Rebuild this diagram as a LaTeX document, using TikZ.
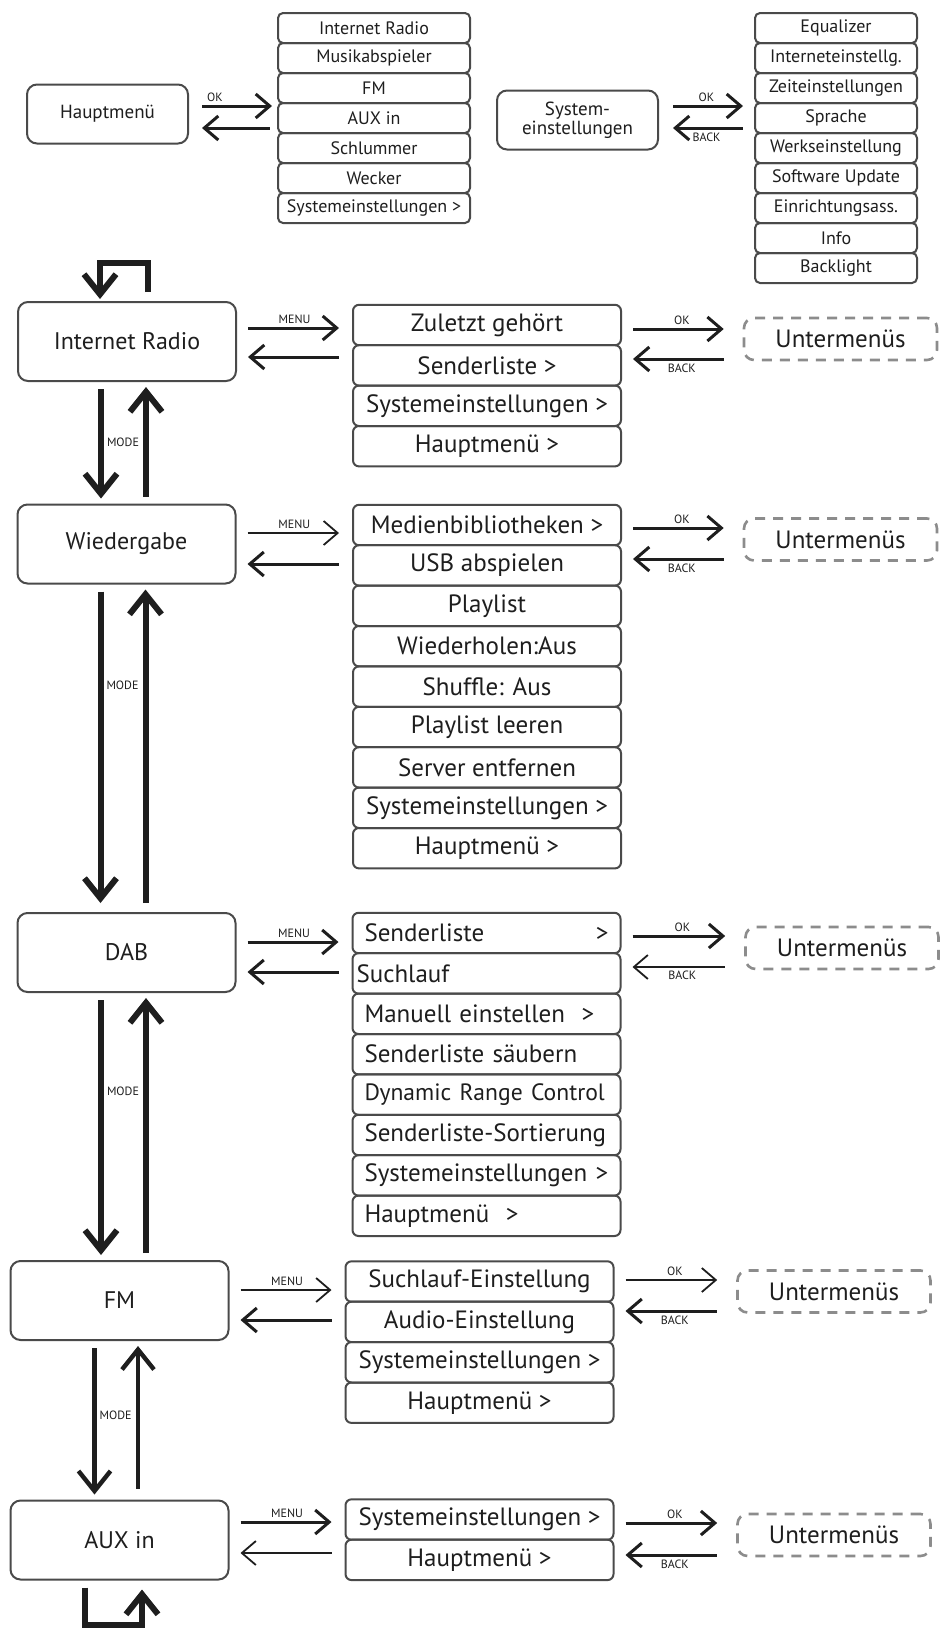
\documentclass[tikz,border=0pt]{standalone}
\usepackage{fontspec}
\setmainfont{PT Sans}
\usetikzlibrary{arrows.meta,positioning,calc}
\definecolor{Ink}{HTML}{1E1E1E}
\definecolor{Frame}{HTML}{4A4A4A}
\definecolor{Dash}{HTML}{8C8C8C}
\tikzset{modebox/.style={rectangle,rounded corners=5pt,draw=Frame,line width=1pt,minimum width=109pt,minimum height=39.5pt,outer sep=0pt,text=Ink,font=\fontsize{12}{14}\selectfont},headbox/.style={modebox,minimum width=80.5pt,minimum height=29.5pt,align=center,font=\fontsize{9.5}{7.5}\selectfont},item/.style={rectangle,rounded corners=3pt,draw=Frame,line width=1pt,minimum width=134pt,minimum height=20.2pt,inner sep=0pt,outer sep=0pt,text=Ink,font=\fontsize{12.5}{14}\selectfont},dabitem/.style={item,text width=122pt,align=left},smallitem/.style={item,rounded corners=2.5pt,minimum width=96pt,minimum height=15pt,font=\fontsize{9}{10}\selectfont},setitem/.style={smallitem,minimum width=81pt},submenu/.style={rectangle,rounded corners=5pt,draw=Dash,line width=1.3pt,dash pattern=on 5pt off 4pt,minimum width=96.5pt,minimum height=21pt,text=Ink,font=\fontsize{12.5}{14}\selectfont},fwd/.style={draw=Ink,line width=1.5pt,arrows={-Straight Barb[length=7pt,width=12pt]},shorten <=6pt,shorten >=7pt},back/.style={fwd,arrows={Straight Barb[length=7pt,width=12pt]-}},thin/.style={line width=0.9pt},modeline/.style={draw=Ink,line width=3pt,arrows={-Straight Barb[length=10pt,width=16pt]},shorten <=4pt,shorten >=3pt},keylabel/.style={text=Ink,inner sep=1.5pt,font=\fontsize{6}{7}\selectfont}}
\begin{document}
\begin{tikzpicture}[x=0.5pt,y=-0.5pt]
\useasboundingbox (0,0) rectangle (948,1629);
\fill[white] (0,0) rectangle (948,1629);
% top row: main menu and system settings
\node[headbox] (HM) at (107.5,114) {Hauptmenü};
\node[smallitem] (hm1) at (374,28) {Internet Radio};
\node[smallitem,below=0pt of hm1] (hm2) {Musikabspieler};
\node[smallitem,below=0pt of hm2] (hm3) {FM};
\node[smallitem,below=0pt of hm3] (hm4) {AUX in};
\node[smallitem,below=0pt of hm4] (hm5) {Schlummer};
\node[smallitem,below=0pt of hm5] (hm6) {Wecker};
\node[smallitem,below=0pt of hm6] (hm7) {Systemeinstellungen >};
\coordinate (hmok) at ($(HM.east)+(0,-8)$);
\coordinate (hmbk) at ($(HM.east)+(0,14)$);
\draw[fwd,shorten <=7pt,shorten >=3pt] (hmok) -- node[keylabel,above,pos=.3] {OK} (hmok -| hm1.west);
\draw[back,shorten <=7pt,shorten >=4pt] (hmbk) -- (hmbk -| hm1.west);
\node[headbox] (SE) at (577.5,120) {System-\\einstellungen};
\node[setitem] (se1) at (836,28) {Equalizer};
\node[setitem,below=0pt of se1] (se2) {Interneteinstellg.};
\node[setitem,below=0pt of se2] (se3) {Zeiteinstellungen};
\node[setitem,below=0pt of se3] (se4) {Sprache};
\node[setitem,below=0pt of se4] (se5) {Werkseinstellung};
\node[setitem,below=0pt of se5] (se6) {Software Update};
\node[setitem,below=0pt of se6] (se7) {Einrichtungsass.};
\node[setitem,below=0pt of se7] (se8) {Info};
\node[setitem,below=0pt of se8] (se9) {Backlight};
\coordinate (seok) at ($(SE.east)+(0,-14)$);
\coordinate (sebk) at ($(SE.east)+(0,8)$);
\draw[fwd,shorten <=7.5pt,shorten >=6pt] (seok) -- node[keylabel,above] {OK} (seok -| se1.west);
\draw[back,shorten <=7.5pt,shorten >=6pt] (sebk) -- node[keylabel,below] {BACK} (sebk -| se1.west);
% Internet Radio
\node[modebox] (IR) at (127,341.5) {Internet Radio};
\node[item] (ir1) at (487,325) {Zuletzt gehört};
\node[item,below=0pt of ir1] (ir2) {Senderliste >};
\node[item,below=0pt of ir2] (ir3) {Systemeinstellungen >};
\node[item,below=0pt of ir3] (ir4) {Hauptmenü >};
\node[submenu] (U1) at (840.5,339) {Untermenüs};
\coordinate (irmn) at ($(IR.east)+(0,-13.5)$);
\coordinate (irbk) at ($(IR.east)+(0,15.5)$);
\coordinate (irok) at ($(U1.west)+(0,-10)$);
\coordinate (irub) at ($(U1.west)+(0,20)$);
\draw[fwd] (irmn) -- node[keylabel,above] {MENU} (irmn -| ir1.west);
\draw[back] (irbk) -- (irbk -| ir1.west);
\draw[fwd,shorten >=9.5pt] (irok -| ir1.east) -- node[keylabel,above] {OK} (irok);
\draw[back,shorten >=9.5pt] (irub -| ir1.east) -- node[keylabel,below] {BACK} (irub);
% Wiedergabe
\node[modebox] (WG) at (126.5,544) {Wiedergabe};
\node[item] (wg1) at (487,525) {Medienbibliotheken >};
\node[item,below=0pt of wg1] (wg2) {USB abspielen};
\node[item,below=0pt of wg2] (wg3) {Playlist};
\node[item,below=0pt of wg3] (wg4) {Wiederholen:Aus};
\node[item,below=0pt of wg4] (wg5) {Shuffle: Aus};
\node[item,below=0pt of wg5] (wg6) {Playlist leeren};
\node[item,below=0pt of wg6] (wg7) {Server entfernen};
\node[item,below=0pt of wg7] (wg8) {Systemeinstellungen >};
\node[item,below=0pt of wg8] (wg9) {Hauptmenü >};
\node[submenu] (U2) at (840.5,539.5) {Untermenüs};
\coordinate (wgmn) at ($(WG.east)+(0,-11)$);
\coordinate (wgbk) at ($(WG.east)+(0,20)$);
\coordinate (wgok) at ($(U2.west)+(0,-11.5)$);
\coordinate (wgub) at ($(U2.west)+(0,19.5)$);
\draw[fwd,thin] (wgmn) -- node[keylabel,above] {MENU} (wgmn -| wg1.west);
\draw[back] (wgbk) -- (wgbk -| wg1.west);
\draw[fwd,shorten >=9.5pt] (wgok -| wg1.east) -- node[keylabel,above] {OK} (wgok);
\draw[back,shorten >=9.5pt] (wgub -| wg1.east) -- node[keylabel,below] {BACK} (wgub);
% DAB
\node[modebox] (DAB) at (126.5,952.5) {DAB};
\node[dabitem] (dab1) at (486.5,933) {Senderliste\hfill>};
\node[dabitem,below=0pt of dab1] (dab2) {\hspace*{-4pt}Suchlauf};
\node[dabitem,below=0pt of dab2] (dab3) {Manuell einstellen\ \ >};
\node[dabitem,below=0pt of dab3] (dab4) {Senderliste säubern};
\node[dabitem,below=0pt of dab4] (dab5) {\mbox{\fontsize{11.8}{14}\selectfont Dynamic Range Control}};
\node[dabitem,below=0pt of dab5] (dab6) {Senderliste-Sortierung};
\node[dabitem,below=0pt of dab6] (dab7) {Systemeinstellungen >};
\node[dabitem,below=0pt of dab7] (dab8) {Hauptmenü\ \ >};
\node[submenu] (U3) at (842,948) {Untermenüs};
\coordinate (dabmn) at ($(DAB.east)+(0,-10.5)$);
\coordinate (dabbk) at ($(DAB.east)+(0,19.5)$);
\coordinate (dabok) at ($(U3.west)+(0,-12)$);
\coordinate (dabub) at ($(U3.west)+(0,19)$);
\draw[fwd] (dabmn) -- node[keylabel,above] {MENU} (dabmn -| dab1.west);
\draw[back] (dabbk) -- (dabbk -| dab1.west);
\draw[fwd,shorten >=9.5pt] (dabok -| dab1.east) -- node[keylabel,above] {OK} (dabok);
\draw[back,thin,shorten >=9.5pt] (dabub -| dab1.east) -- node[keylabel,below] {BACK} (dabub);
% FM
\node[modebox] (FM) at (119.5,1300.5) {FM};
\node[item] (fm1) at (479.5,1281.5) {Suchlauf-Einstellung};
\node[item,below=0pt of fm1] (fm2) {Audio-Einstellung};
\node[item,below=0pt of fm2] (fm3) {Systemeinstellungen >};
\node[item,below=0pt of fm3] (fm4) {Hauptmenü >};
\node[submenu] (U4) at (834,1291.5) {Untermenüs};
\coordinate (fmmn) at ($(FM.east)+(0,-10.5)$);
\coordinate (fmbk) at ($(FM.east)+(0,19.5)$);
\coordinate (fmok) at ($(U4.west)+(0,-11.5)$);
\coordinate (fmub) at ($(U4.west)+(0,19.5)$);
\draw[fwd,thin] (fmmn) -- node[keylabel,above] {MENU} (fmmn -| fm1.west);
\draw[back] (fmbk) -- (fmbk -| fm1.west);
\draw[fwd,thin,shorten >=9.5pt] (fmok -| fm1.east) -- node[keylabel,above] {OK} (fmok);
\draw[back,shorten >=9.5pt] (fmub -| fm1.east) -- node[keylabel,below] {BACK} (fmub);
% AUX in
\node[modebox] (AUX) at (119.5,1540) {AUX in};
\node[item] (aux1) at (479.5,1519.5) {Systemeinstellungen >};
\node[item,below=0pt of aux1] (aux2) {Hauptmenü >};
\node[submenu] (U5) at (834,1535) {Untermenüs};
\coordinate (auxmn) at ($(AUX.east)+(0,-18)$);
\coordinate (auxbk) at ($(AUX.east)+(0,13)$);
\coordinate (auxok) at ($(U5.west)+(0,-12)$);
\coordinate (auxub) at ($(U5.west)+(0,20)$);
\draw[fwd] (auxmn) -- node[keylabel,above] {MENU} (auxmn -| aux1.west);
\draw[back,thin] (auxbk) -- (auxbk -| aux1.west);
\draw[fwd,shorten >=9.5pt] (auxok -| aux1.east) -- node[keylabel,above] {OK} (auxok);
\draw[back,shorten >=9.5pt] (auxub -| aux1.east) -- node[keylabel,below] {BACK} (auxub);
% MODE cycle
\coordinate (topr) at ($(IR.north)+(21,0)$);
\coordinate (topl) at ($(IR.north)+(-27,0)$);
\draw[modeline,shorten <=5pt,shorten >=1.5pt] (topr) -- ++(0,-39) -| (topl);
\coordinate (m1d) at ($(IR.south)+(-26,0)$);
\coordinate (m1u) at ($(IR.south)+(19,0)$);
\draw[modeline] (m1d) -- node[keylabel,right] {MODE} (m1d |- WG.north);
\draw[modeline] (m1u |- WG.north) -- (m1u);
\coordinate (m2d) at ($(WG.south)+(-26,0)$);
\coordinate (m2u) at ($(WG.south)+(19,0)$);
\draw[modeline,shorten >=5pt] (m2d) -- node[keylabel,right,pos=.31] {MODE} (m2d |- DAB.north);
\draw[modeline,shorten <=5pt] (m2u |- DAB.north) -- (m2u);
\coordinate (m3d) at ($(DAB.south)+(-25.5,0)$);
\coordinate (m3u) at ($(DAB.south)+(19.5,0)$);
\draw[modeline] (m3d) -- node[keylabel,right,pos=.37] {MODE} (m3d |- FM.north);
\draw[modeline] (m3u |- FM.north) -- (m3u);
\coordinate (m4d) at ($(FM.south)+(-25,0)$);
\coordinate (m4u) at ($(FM.south)+(18.5,0)$);
\draw[modeline,line width=2.2pt] (m4d) -- node[keylabel,right,pos=.47] {MODE} (m4d |- AUX.north);
\draw[modeline,line width=2.2pt,shorten <=6pt] (m4u |- AUX.north) -- (m4u);
\coordinate (botl) at ($(AUX.south)+(-34.5,0)$);
\coordinate (botr) at ($(AUX.south)+(22.5,0)$);
\draw[modeline,shorten <=4pt,shorten >=5pt] (botl) -- ++(0,45) -| (botr);
\end{tikzpicture}
\end{document}
